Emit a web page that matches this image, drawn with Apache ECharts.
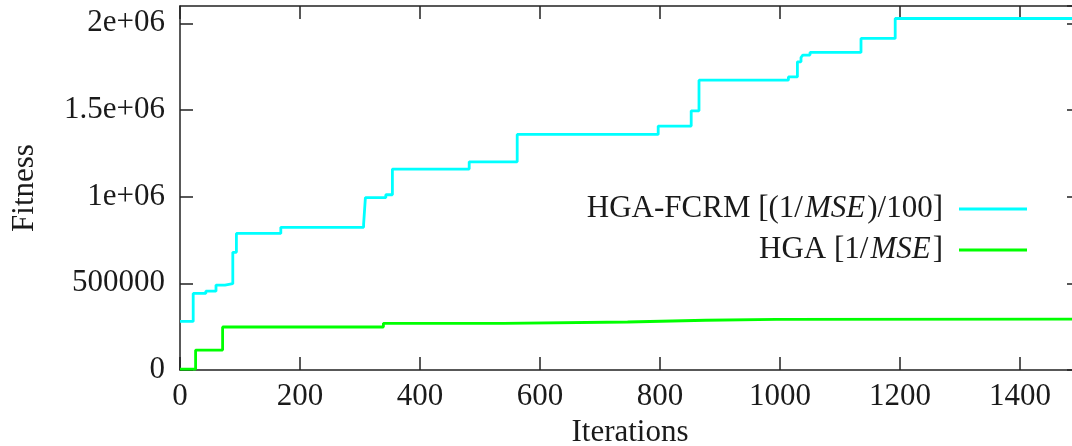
<!DOCTYPE html>
<html>
<head>
<meta charset="utf-8">
<script src="https://cdn.jsdelivr.net/npm/echarts@6/dist/echarts.min.js"></script>
<style>
html,body{margin:0;padding:0;background:#fff;}
#chart{width:1072px;height:446px;}
</style>
</head>
<body>
<div id="chart"></div>
<script>
// Iteration at which each new best fitness value starts
var fcrmIter = [0, 22, 43, 60, 75, 88, 94, 168, 306, 309, 343, 354, 482, 562, 797, 852, 865, 1014, 1029, 1035, 1038, 1050, 1135, 1192, 1500];
var fcrmValue = [280000, 442000, 455000, 490000, 498000, 679000, 788000, 823000, 842000, 994000, 1011000, 1159000, 1201000, 1359000, 1407000, 1495000, 1672000, 1691000, 1778000, 1803000, 1817000, 1832000, 1913000, 2028000, 2028000];
var hgaIter = [0, 26, 71, 339, 539, 746, 876, 994, 1500];
var hgaValue = [5000, 115000, 248000, 269000, 277000, 287000, 292000, 294000, 294000];
var seriesNames = ['HGA-FCRM [(1/MSE)/100]', 'HGA [1/MSE]'];
var yTickValues = [0, 500000, 1000000, 1500000, 2000000];
var yTickLabels = ['0', '500000', '1e+06', '1.5e+06', '2e+06'];
var xName = 'Iterations';
var yName = 'Fitness';

function pairs(xs, ys) { return xs.map(function (x, i) { return [x, ys[i]]; }); }

var FONT = 'Liberation Serif';
var TXT = '#1a1a1a';
var AX = '#222';

var chart = echarts.init(document.getElementById('chart'), null, { renderer: 'canvas' });

function axisCommon() {
  return {
    axisLine: { show: true, onZero: false, lineStyle: { color: AX, width: 1.5 } },
    axisTick: { show: true, inside: true, length: 13, lineStyle: { color: AX, width: 1.5 } },
    splitLine: { show: false }
  };
}

var option = {
  animation: false,
  backgroundColor: '#fff',
  textStyle: { fontFamily: FONT, color: TXT },
  grid: { left: 180, top: 6, right: -8, bottom: 76, containLabel: false, outerBoundsMode: 'none' },
  legend: {
    orient: 'vertical',
    right: 45,
    top: 192,
    align: 'right',
    padding: 0,
    itemGap: 7,
    itemWidth: 68,
    itemHeight: 3,
    icon: 'rect',
    data: seriesNames,
    formatter: function (name) {
      if (name === seriesNames[0]) return '{a|HGA-FCRM [(1/}{i|MSE}{a|)/100]}{sp|}';
      return '{a|HGA [1/}{i|MSE}{a|]}{sp|}';
    },
    textStyle: {
      fontFamily: FONT, fontSize: 31, color: TXT, lineHeight: 34,
      rich: {
        a: { fontFamily: FONT, fontSize: 31, color: TXT },
        i: { fontFamily: FONT, fontSize: 31, fontStyle: 'italic', color: TXT, padding: [0, 2, 0, 2] },
        sp: { width: 11 }
      }
    }
  },
  xAxis: [
    Object.assign({
      type: 'value', position: 'bottom', min: 0, max: 1500, interval: 200,
      name: xName, nameLocation: 'middle', nameGap: 45,
      nameTextStyle: { fontFamily: FONT, fontSize: 31, color: TXT },
      axisLabel: {
        show: true, margin: 11, fontFamily: FONT, fontSize: 31, color: TXT, showMaxLabel: false,
        formatter: function (v) { return String(v); }
      }
    }, axisCommon()),
    Object.assign({
      type: 'value', position: 'top', min: 0, max: 1500, interval: 200,
      axisLabel: { show: false }
    }, axisCommon())
  ],
  yAxis: [
    Object.assign({
      type: 'value', position: 'left', min: 0, max: 2100000, interval: 500000,
      name: yName, nameLocation: 'middle', nameGap: 140, nameRotate: 90,
      nameTextStyle: { fontFamily: FONT, fontSize: 31, color: TXT },
      axisLabel: {
        show: true, margin: 15, fontFamily: FONT, fontSize: 31, color: TXT,
        showMaxLabel: false, padding: [9, 0, 0, 0],
        formatter: function (v) {
          var k = yTickValues.indexOf(v);
          return k >= 0 ? yTickLabels[k] : '';
        }
      }
    }, axisCommon()),
    Object.assign({
      type: 'value', position: 'right', min: 0, max: 2100000, interval: 500000,
      axisLabel: { show: false }
    }, axisCommon())
  ],
  series: [
    {
      name: seriesNames[0], type: 'line', step: 'end', showSymbol: false, symbol: 'none',
      xAxisIndex: 0, yAxisIndex: 0,
      lineStyle: { color: '#00ffff', width: 2.8 }, itemStyle: { color: '#00ffff' },
      data: pairs(fcrmIter, fcrmValue)
    },
    {
      name: seriesNames[1], type: 'line', step: 'end', showSymbol: false, symbol: 'none',
      xAxisIndex: 0, yAxisIndex: 0,
      lineStyle: { color: '#00ff00', width: 2.8 }, itemStyle: { color: '#00ff00' },
      data: pairs(hgaIter, hgaValue)
    }
  ]
};
chart.setOption(option);
</script>
</body>
</html>
